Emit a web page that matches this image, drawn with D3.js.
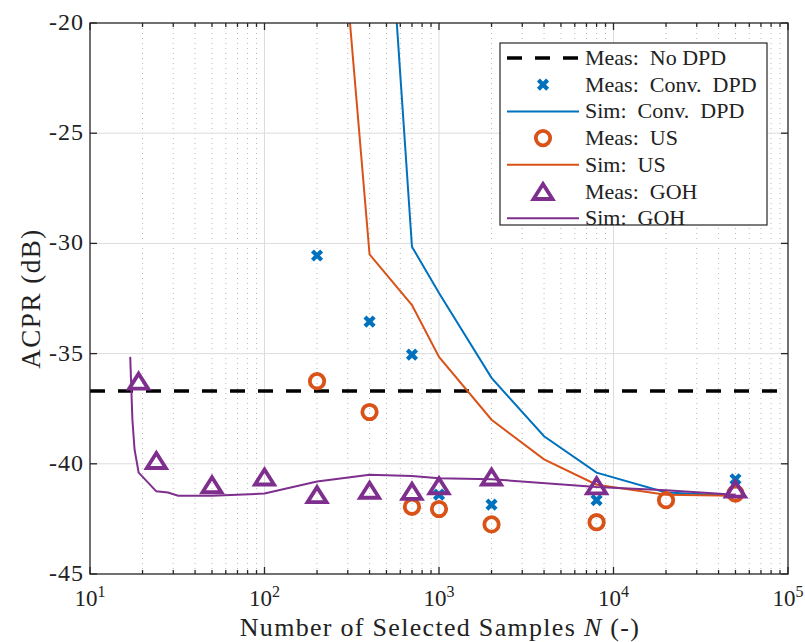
<!DOCTYPE html>
<html>
<head>
<meta charset="utf-8">
<script src="https://d3js.org/d3.v7.min.js"></script>
<style>
  body { margin: 0; background: #fff; }
</style>
</head>
<body>
<script>
// measured reference, no DPD
const noDpdLevel = -36.7;

// Conv. DPD
const convMeasN = [200, 400, 700, 1000, 2000, 8000, 50000];
const convMeasAcpr = [-30.55, -33.55, -35.05, -41.4, -41.85, -41.65, -40.7];
const convSimN = [500, 700, 1000, 2000, 4000, 8000, 20000, 50000];
const convSimAcpr = [-13.1, -30.15, -32.25, -36.1, -38.75, -40.4, -41.3, -41.45];

// US
const usMeasN = [200, 400, 700, 1000, 2000, 8000, 20000, 50000];
const usMeasAcpr = [-36.25, -37.65, -41.95, -42.05, -42.75, -42.65, -41.65, -41.35];
const usSimN = [300, 400, 700, 1000, 2000, 4000, 8000, 20000, 50000];
const usSimAcpr = [-18.8, -30.5, -32.8, -35.15, -38.0, -39.8, -40.95, -41.4, -41.45];

// GOH
const gohMeasN = [19, 24, 50, 100, 200, 400, 700, 1000, 2000, 8000, 50000];
const gohMeasAcpr = [-36.25, -39.85, -40.95, -40.6, -41.4, -41.2, -41.25, -41.0, -40.6, -41.0, -41.15];
const gohSimN = [17, 17.5, 18, 19, 24, 28, 32, 50, 100, 200, 400, 700, 1000, 2000, 8000, 20000, 50000];
const gohSimAcpr = [-35.15, -38.0, -39.35, -40.4, -41.25, -41.3, -41.45, -41.45, -41.35, -40.8, -40.5, -40.55, -40.65, -40.7, -41.05, -41.2, -41.4];

const xTicks = [1e1, 1e2, 1e3, 1e4, 1e5];
const yTicks = [-45, -40, -35, -30, -25, -20];

const legendItems = [
  { label: "Meas:  No DPD", kind: "dash", color: "#000" },
  { label: "Meas:  Conv.  DPD", kind: "cross", color: "#0072BD" },
  { label: "Sim:  Conv.  DPD", kind: "line", color: "#0072BD" },
  { label: "Meas:  US", kind: "circle", color: "#D95319" },
  { label: "Sim:  US", kind: "line", color: "#D95319" },
  { label: "Meas:  GOH", kind: "tri", color: "#7E2F8E" },
  { label: "Sim:  GOH", kind: "line", color: "#7E2F8E" }
];

const W = 805, H = 642;
const pL = 90, pR = 788, pT = 23, pB = 574;
const serif = "'Liberation Serif', 'Times New Roman', 'DejaVu Serif', serif";

const svg = d3.select("body").append("svg")
  .attr("width", W).attr("height", H)
  .attr("font-family", serif);

const x = d3.scaleLog().domain([10, 1e5]).range([pL, pR]);
const y = d3.scaleLinear().domain([-45, -20]).range([pB, pT]);

svg.append("defs").append("clipPath").attr("id", "clip")
  .append("rect").attr("x", pL).attr("y", pT)
  .attr("width", pR - pL).attr("height", pB - pT);

// minor grid (dotted)
const minorX = [];
for (let d = 10; d < 1e5; d *= 10) {
  for (let k = 2; k <= 9; k++) minorX.push(d * k);
}
svg.append("g").selectAll("line").data(minorX).join("line")
  .attr("x1", d => x(d)).attr("x2", d => x(d))
  .attr("y1", pT).attr("y2", pB)
  .attr("stroke", "#b8b8b8").attr("stroke-width", 1)
  .attr("stroke-dasharray", "1,4");

// major grid
const grid = svg.append("g").attr("stroke", "#dcdcdc").attr("stroke-width", 1);
grid.selectAll(".gx").data(xTicks.slice(1, -1)).join("line")
  .attr("x1", d => x(d)).attr("x2", d => x(d))
  .attr("y1", pT).attr("y2", pB);
grid.selectAll(".gy").data(yTicks.slice(1, -1)).join("line")
  .attr("x1", pL).attr("x2", pR)
  .attr("y1", d => y(d)).attr("y2", d => y(d));

// plotting helpers
const plot = svg.append("g").attr("clip-path", "url(#clip)");
const lineGen = d3.line().x(d => x(d[0])).y(d => y(d[1]));
const zip = (a, b) => a.map((v, i) => [v, b[i]]);

function crossPath(s) {
  return `M${-s},${-s}L${s},${s}M${-s},${s}L${s},${-s}`;
}
function triPath(w, h) {
  return `M0,${-h / 2}L${w / 2},${h / 2}L${-w / 2},${h / 2}Z`;
}
const crossD = crossPath(4.6), triD = triPath(19, 15);

// No DPD
plot.append("line")
  .attr("x1", pL).attr("x2", pR)
  .attr("y1", y(noDpdLevel)).attr("y2", y(noDpdLevel))
  .attr("stroke", "#000").attr("stroke-width", 3.5)
  .attr("stroke-dasharray", "15,13");

// Conv DPD
svg.append("g").selectAll("path").data(zip(convMeasN, convMeasAcpr)).join("path")
  .attr("transform", d => `translate(${x(d[0])},${y(d[1])})`)
  .attr("d", crossD)
  .attr("stroke", "#0072BD").attr("stroke-width", 4.2).attr("fill", "none");
plot.append("path").datum(zip(convSimN, convSimAcpr))
  .attr("d", lineGen).attr("fill", "none")
  .attr("stroke", "#0072BD").attr("stroke-width", 2);

// US
svg.append("g").selectAll("circle").data(zip(usMeasN, usMeasAcpr)).join("circle")
  .attr("cx", d => x(d[0])).attr("cy", d => y(d[1])).attr("r", 7.2)
  .attr("stroke", "#D95319").attr("stroke-width", 3.8).attr("fill", "none");
plot.append("path").datum(zip(usSimN, usSimAcpr))
  .attr("d", lineGen).attr("fill", "none")
  .attr("stroke", "#D95319").attr("stroke-width", 2);

// GOH
svg.append("g").selectAll("path").data(zip(gohMeasN, gohMeasAcpr)).join("path")
  .attr("transform", d => `translate(${x(d[0])},${y(d[1])})`)
  .attr("d", triD)
  .attr("stroke", "#7E2F8E").attr("stroke-width", 3.8).attr("fill", "none")
  .attr("stroke-linejoin", "miter");
plot.append("path").datum(zip(gohSimN, gohSimAcpr))
  .attr("d", lineGen).attr("fill", "none")
  .attr("stroke", "#7E2F8E").attr("stroke-width", 2);

// axes box and ticks
const axisColor = "#262626";
const ax = svg.append("g").attr("stroke", axisColor).attr("stroke-width", 1.3);
ax.append("rect").attr("x", pL).attr("y", pT)
  .attr("width", pR - pL).attr("height", pB - pT).attr("fill", "none");
const majorLen = 7, minorLen = 4;
xTicks.forEach(t => {
  ax.append("line").attr("x1", x(t)).attr("x2", x(t)).attr("y1", pB).attr("y2", pB - majorLen);
  ax.append("line").attr("x1", x(t)).attr("x2", x(t)).attr("y1", pT).attr("y2", pT + majorLen);
});
minorX.forEach(t => {
  ax.append("line").attr("x1", x(t)).attr("x2", x(t)).attr("y1", pB).attr("y2", pB - minorLen);
  ax.append("line").attr("x1", x(t)).attr("x2", x(t)).attr("y1", pT).attr("y2", pT + minorLen);
});
yTicks.forEach(t => {
  ax.append("line").attr("x1", pL).attr("x2", pL + majorLen).attr("y1", y(t)).attr("y2", y(t));
  ax.append("line").attr("x1", pR).attr("x2", pR - majorLen).attr("y1", y(t)).attr("y2", y(t));
});

// tick labels
svg.append("g").selectAll("text").data(yTicks).join("text")
  .attr("x", 84).attr("y", d => y(d) + 7)
  .attr("text-anchor", "end").attr("font-size", 24).attr("letter-spacing", 1)
  .attr("fill", "#222")
  .text(d => "-" + Math.abs(d));

const xl = svg.append("g").selectAll("text").data(xTicks).join("text")
  .attr("x", d => x(d)).attr("y", 606)
  .attr("text-anchor", "middle").attr("font-size", 23).attr("fill", "#222");
xl.append("tspan").text("10");
xl.append("tspan").attr("font-size", 16).attr("dy", -9).text(d => Math.round(Math.log10(d)));

// axis labels
const xlab = svg.append("text").attr("x", 440).attr("y", 636)
  .attr("text-anchor", "middle").attr("font-size", 26).attr("letter-spacing", 1.3)
  .attr("fill", "#222");
xlab.append("tspan").text("Number of Selected Samples ");
xlab.append("tspan").attr("font-style", "italic").text("N");
xlab.append("tspan").text(" (-)");

svg.append("text")
  .attr("transform", `translate(40,${(pT + pB) / 2}) rotate(-90)`)
  .attr("text-anchor", "middle").attr("font-size", 27).attr("letter-spacing", 1.5)
  .attr("fill", "#222")
  .text("ACPR (dB)");

// legend
const lg = svg.append("g");
lg.append("rect").attr("x", 500).attr("y", 43).attr("width", 267).attr("height", 182)
  .attr("fill", "#fff").attr("stroke", axisColor).attr("stroke-width", 1.2);
const rowY = i => 58 + i * 26.7;
legendItems.forEach((it, i) => {
  const cy = rowY(i);
  if (it.kind === "dash") {
    lg.append("line").attr("x1", 507).attr("x2", 579).attr("y1", cy).attr("y2", cy)
      .attr("stroke", it.color).attr("stroke-width", 3.5).attr("stroke-dasharray", "15,13");
  } else if (it.kind === "line") {
    lg.append("line").attr("x1", 507).attr("x2", 579).attr("y1", cy).attr("y2", cy)
      .attr("stroke", it.color).attr("stroke-width", 2);
  } else if (it.kind === "cross") {
    lg.append("path").attr("transform", `translate(543,${cy})`).attr("d", crossD)
      .attr("stroke", it.color).attr("stroke-width", 4.2).attr("fill", "none");
  } else if (it.kind === "circle") {
    lg.append("circle").attr("cx", 543).attr("cy", cy).attr("r", 7.2)
      .attr("stroke", it.color).attr("stroke-width", 3.8).attr("fill", "none");
  } else if (it.kind === "tri") {
    lg.append("path").attr("transform", `translate(543,${cy})`).attr("d", triD)
      .attr("stroke", it.color).attr("stroke-width", 3.8).attr("fill", "none");
  }
  lg.append("text").attr("x", 585).attr("y", cy + 7).attr("font-size", 22).attr("fill", "#222")
    .style("white-space", "pre")
    .text(it.label);
});
</script>
</body>
</html>
